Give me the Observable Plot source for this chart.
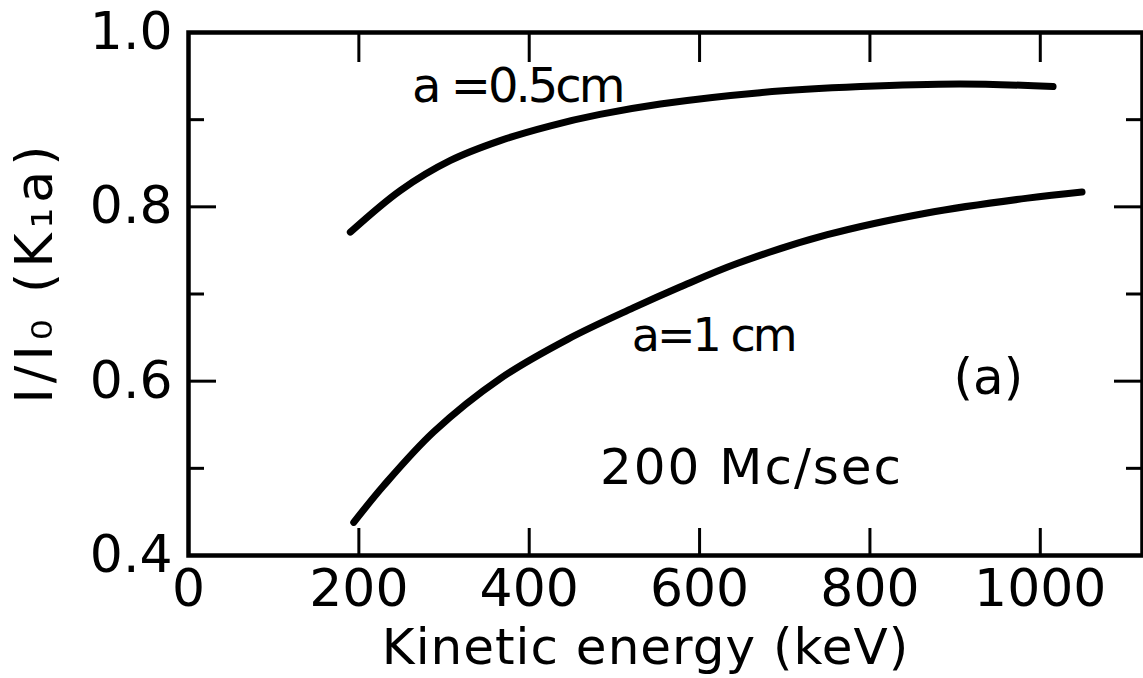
<!DOCTYPE html>
<html><head><meta charset="utf-8">
<script src="https://cdn.jsdelivr.net/npm/d3@7"></script>
<script src="https://cdn.jsdelivr.net/npm/@observablehq/plot@0.6"></script>
<style>html,body{margin:0;padding:0;background:#fff} svg{display:block}</style>
</head><body><div id="chart"></div>
<script>
// Curve a = 0.5 cm
const energyA05 = [190, 249, 307, 366, 425, 483, 554, 671, 789, 906, 1015];
const ratioA05  = [0.771, 0.819, 0.853, 0.876, 0.893, 0.906, 0.918, 0.931, 0.938, 0.941, 0.938];
// Curve a = 1 cm
const energyA1 = [194, 229, 288, 366, 445, 522, 577, 644, 750, 867, 985, 1049];
const ratioA1  = [0.438, 0.480, 0.542, 0.603, 0.648, 0.684, 0.708, 0.735, 0.768, 0.793, 0.810, 0.817];

const xTickValues = [200, 400, 600, 800, 1000];
const xLabelValues = [0, 200, 400, 600, 800, 1000];
const xLabelTexts = ["0", "200", "400", "600", "800", "1000"];
const yMajorValues = [0.4, 0.6, 0.8, 1.0];
const yMinorValues = [0.5, 0.7, 0.9];
const yLabelTexts = ["0.4", "0.6", "0.8", "1.0"];

const annotations = [
  {x: 386, y: 0.938, text: "a =0.5cm", size: 48},
  {x: 616, y: 0.651, text: "a=1 cm", size: 46},
  {x: 939, y: 0.604, text: "(a)", size: 50},
  {x: 661, y: 0.500, text: "200 Mc/sec", size: 50}
];
const xTitle = "Kinetic energy (keV)";
const yTitle = "I/I\u2080 (K\u2081a)";

const W = 1143, H = 678;
const mL = 188, mR = 1, mT = 32, mB = 123;
const innerW = W - mL - mR, innerH = H - mT - mB;

const curveA05 = energyA05.map((e, i) => ({e, r: ratioA05[i]}));
const curveA1 = energyA1.map((e, i) => ({e, r: ratioA1[i]}));
const xLabels = xLabelValues.map((v, i) => ({v, t: xLabelTexts[i]}));
const yLabels = yMajorValues.map((v, i) => ({v, t: yLabelTexts[i]}));

const chart = Plot.plot({
  width: W, height: H,
  marginLeft: mL, marginRight: mR, marginTop: mT, marginBottom: mB,
  style: {fontFamily: "DejaVu Sans", background: "#fff", color: "#000"},
  x: {domain: [0, 1120], axis: null},
  y: {domain: [0.4, 1.0], axis: null},
  marks: [
    // bottom x ticks (inward)
    Plot.tickX(xTickValues, {x: d => d, stroke: "#000", strokeWidth: 3, insetTop: innerH - 27}),
    // top x ticks (inward)
    Plot.tickX(xTickValues, {x: d => d, stroke: "#000", strokeWidth: 3, insetBottom: innerH - 30}),
    // left y ticks
    Plot.tickY(yMajorValues, {y: d => d, stroke: "#000", strokeWidth: 3, insetRight: innerW - 28}),
    Plot.tickY(yMinorValues, {y: d => d, stroke: "#000", strokeWidth: 3, insetRight: innerW - 16}),
    // right y ticks
    Plot.tickY(yMajorValues, {y: d => d, stroke: "#000", strokeWidth: 3, insetLeft: innerW - 28}),
    Plot.tickY(yMinorValues, {y: d => d, stroke: "#000", strokeWidth: 3, insetLeft: innerW - 16}),
    Plot.frame({stroke: "#000", strokeWidth: 4.5}),
    // curves
    Plot.line(curveA05, {x: "e", y: "r", curve: "catmull-rom", stroke: "#000", strokeWidth: 7, strokeLinecap: "round"}),
    Plot.line(curveA1, {x: "e", y: "r", curve: "catmull-rom", stroke: "#000", strokeWidth: 7, strokeLinecap: "round"}),
    // tick labels
    Plot.text(xLabels, {x: "v", text: "t", frameAnchor: "bottom", dy: 34, lineAnchor: "middle", fontSize: 52, fill: "#000"}),
    Plot.text(yLabels, {y: "v", text: "t", frameAnchor: "left", dx: -16, textAnchor: "end", lineAnchor: "middle", fontSize: 52, fill: "#000"}),
    // titles
    Plot.text([xTitle], {text: d => d, frameAnchor: "bottom", dx: -20, dy: 92, textAnchor: "middle", lineAnchor: "middle", fontSize: 50, fill: "#000"}),
    Plot.text([yTitle], {text: d => d, frameAnchor: "left", dx: -153, dy: -22, rotate: -90, textAnchor: "middle", lineAnchor: "middle", fontSize: 52, fill: "#000"}),
    // annotations
    Plot.text(annotations, {x: "x", y: "y", text: "text", lineAnchor: "middle", fontSize: "size", fill: "#000"})
  ]
});
document.getElementById("chart").appendChild(chart);

// letter spacing tweaks
d3.select(chart).selectAll("text").each(function() {
  const t = this.textContent;
  if (t === yTitle) d3.select(this).style("letter-spacing", "5px");
  if (t === xTitle) d3.select(this).style("letter-spacing", "1px");
  if (t.startsWith("a")) d3.select(this).style("letter-spacing", "-3px");
  if (t === "200 Mc/sec") d3.select(this).style("letter-spacing", "2px");
});
</script>
</body></html>
